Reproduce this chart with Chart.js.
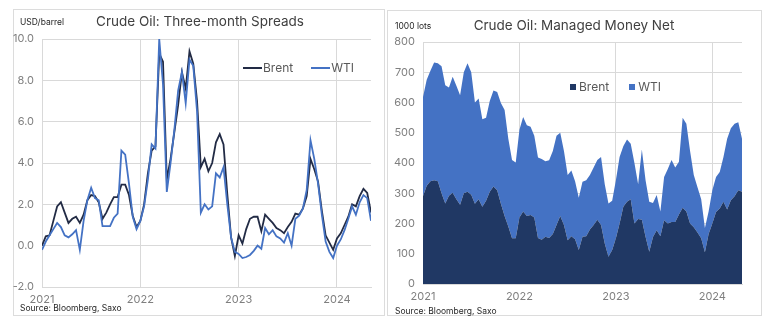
<!DOCTYPE html>
<html>
<head>
<meta charset="utf-8">
<script src="https://cdn.jsdelivr.net/npm/chart.js@4"></script>
<style>
  body { margin: 0; width: 770px; height: 330px; background: #fff; position: relative; overflow: hidden; font-family: Inter, "Noto Sans", sans-serif; }
  .panel { position: absolute; border: 1px solid #dcdcdc; box-sizing: border-box; }
  canvas { position: absolute; top: 0; }
  .txt { position: absolute; white-space: nowrap; line-height: 1; }
  .title { font-size: 13.5px; color: #404040; transform: translateX(-50%); }
  .unit, .src { font-size: 8.5px; color: #262626; }
  .leg { position: absolute; font-size: 12px; color: #595959; display: flex; align-items: center; line-height: 1; }
  .line { display: inline-block; width: 19px; height: 2px; margin-right: 1px; }
  .sq { display: inline-block; width: 6px; height: 6px; margin-right: 3px; }
</style>
</head>
<body>
<div class="panel" style="left:13px;top:9px;width:372px;height:307px"></div>
<div class="panel" style="left:387px;top:10px;width:375px;height:306px"></div>

<canvas id="spreads" width="386" height="330" style="left:0;width:386px;height:330px"></canvas>
<canvas id="money" width="384" height="330" style="left:386px;width:384px;height:330px"></canvas>

<div class="txt title" style="left:200px;top:15px">Crude Oil: Three-month Spreads</div>
<div class="txt unit" style="left:20px;top:18px">USD/barrel</div>
<div class="txt src" style="left:20px;top:304px">Source: Bloomberg, Saxo</div>
<div class="leg" style="left:243px;top:62px">
  <span class="line" style="background:#222b45"></span>Brent
  <span class="line" style="background:#4472c4;margin-left:18px"></span>WTI
</div>

<div class="txt title" style="left:574px;top:19px">Crude Oil: Managed Money Net</div>
<div class="txt unit" style="left:395px;top:22px">1000 lots</div>
<div class="txt src" style="left:395px;top:307px">Source: Bloomberg, Saxo</div>
<div class="leg" style="left:570px;top:81px">
  <span class="sq" style="background:#203864"></span>Brent
  <span class="sq" style="background:#4472c4;margin-left:20px"></span>WTI
</div>

<script>
// DATA - fortnightly readings starting Jan 2021
const yearTicks = [2021, 2022, 2023, 2024];
const spreadTicks = [-2, 0, 2, 4, 6, 8, 10];
const moneyTicks = [0, 100, 200, 300, 400, 500, 600, 700, 800];

// three-month spreads, USD/barrel
const brentSpread = [
  0.0, 0.45, 0.5, 1.2, 1.9, 2.1, 1.6, 1.1, 1.3, 1.4, 1.1, 1.5, 2.2, 2.45, 2.4, 2.1, 1.3, 1.6, 2.0, 2.35,
  2.35, 2.95, 2.95, 2.45, 1.45, 0.9, 1.2, 2.0, 3.5, 4.6, 4.8, 9.3, 8.9, 3.2, 4.2, 5.5, 6.8, 8.4, 7.6, 9.4,
  8.8, 7.0, 3.8, 4.2, 3.6, 4.0, 5.0, 5.4, 4.9, 2.5, 0.4, -0.5, 0.5, 0.1, 0.8, 1.3, 1.4, 1.4, 0.7, 1.5,
  1.3, 1.1, 0.85, 0.75, 0.6, 0.9, 1.15, 1.55, 1.5, 1.8, 2.4, 4.2, 3.7, 3.1, 1.7, 0.5, 0.15, -0.2, 0.35, 0.6,
  1.0, 1.4, 2.0, 1.9, 2.4, 2.75, 2.55, 1.6
];
const wtiSpread = [
  -0.2, 0.2, 0.5, 0.8, 1.1, 0.9, 0.5, 0.4, 0.55, 0.75, -0.2, 1.2, 2.2, 2.8, 2.3, 2.2, 0.95, 0.95, 0.95, 1.35,
  1.55, 4.6, 4.4, 3.0, 1.4, 0.8, 1.2, 1.9, 3.2, 4.9, 4.7, 10.0, 7.8, 2.6, 4.0, 5.6, 7.5, 8.4, 6.9, 9.0,
  8.7, 6.5, 1.6, 2.0, 1.75, 1.9, 3.5, 3.3, 3.8, 2.0, 0.4, -0.3, -0.4, -0.6, -0.55, -0.45, -0.25, 0.0, -0.15, 0.85,
  0.55, 0.75, 0.45, 0.35, 0.15, 0.6, 0.0, 1.3, 1.45, 1.8, 2.7, 5.1, 4.2, 3.0, 1.5, 0.2, -0.3, -0.6, 0.0, 0.3,
  0.75, 1.3, 1.9, 1.5, 2.1, 2.45, 2.3, 1.2
];

// managed money net, 1000 lots (stacked)
const brentNet = [
  290, 325, 340, 343, 340, 300, 266, 292, 302, 280, 262, 300, 305, 295, 265, 280, 255, 275, 305, 322,
  310, 265, 225, 190, 151, 151, 220, 240, 225, 228, 220, 152, 146, 156, 152, 165, 195, 225, 195, 145,
  158, 148, 112, 156, 158, 180, 195, 212, 195, 134, 90, 112, 151, 200, 255, 272, 280, 200, 215, 212,
  156, 107, 155, 178, 158, 211, 200, 205, 205, 230, 252, 240, 200, 188, 170, 151, 105, 165, 200, 238,
  250, 272, 246, 277, 290, 310, 305
];
const wtiNet = [
  328, 350, 365, 389, 390, 420, 391, 358, 383, 375, 362, 400, 425, 405, 335, 333, 290, 275, 300, 318,
  325, 333, 350, 290, 259, 251, 290, 312, 300, 292, 270, 266, 267, 250, 257, 275, 295, 275, 245, 215,
  217, 192, 173, 182, 185, 180, 190, 198, 225, 196, 176, 163, 192, 220, 200, 206, 184, 200, 115, 233,
  187, 165, 113, 116, 82, 143, 180, 205, 180, 174, 298, 290, 240, 172, 150, 129, 80, 75, 110, 116,
  120, 148, 234, 238, 240, 225, 175
];

const STEPS_PER_YEAR = 26;
const toPoints = arr => arr.map((v, i) => ({ x: 2021 + i / STEPS_PER_YEAR, y: v }));

Chart.defaults.font.family = 'Inter, "Noto Sans", sans-serif';
Chart.defaults.animation = false;

const gridColor = "#d9d9d9";
const tickColor = "#7f7f7f";

function xAxis(maxX) {
  return {
    type: "linear",
    min: 2021,
    max: maxX,
    afterBuildTicks: s => { s.ticks = yearTicks.map(v => ({ value: v })); },
    afterFit: s => { s.height = 20; },
    ticks: { color: tickColor, font: { size: 11 }, padding: 6, maxRotation: 0, callback: v => String(v) },
    grid: { color: gridColor, drawTicks: false },
    border: { display: true, color: gridColor }
  };
}

function yAxis(ticks, fmt) {
  return {
    min: ticks[0],
    max: ticks[ticks.length - 1],
    afterBuildTicks: s => { s.ticks = ticks.map(v => ({ value: v })); },
    afterFit: s => { s.width = 30; },
    ticks: { color: tickColor, font: { size: 11 }, padding: 8, callback: fmt },
    grid: { color: gridColor, drawTicks: false },
    border: { display: false }
  };
}

// LEFT: spreads
new Chart(document.getElementById("spreads"), {
  type: "line",
  data: {
    datasets: [
      { label: "WTI", data: toPoints(wtiSpread), borderColor: "#4472c4", borderWidth: 1.8, pointRadius: 0, tension: 0 },
      { label: "Brent", data: toPoints(brentSpread), borderColor: "#222b45", borderWidth: 1.8, pointRadius: 0, tension: 0 }
    ]
  },
  options: {
    responsive: false,
    layout: { padding: { left: 12, top: 39, right: 15, bottom: 23 } },
    plugins: { legend: { display: false }, tooltip: { enabled: false } },
    scales: {
      x: xAxis(2021 + (brentSpread.length - 1) / STEPS_PER_YEAR),
      y: yAxis(spreadTicks, v => v.toFixed(1))
    }
  }
});

// RIGHT: managed money (stacked areas)
const moneyX = xAxis(2021 + (brentNet.length - 1) / STEPS_PER_YEAR);
const moneyY = yAxis(moneyTicks, v => String(v));
moneyY.stacked = true;

new Chart(document.getElementById("money"), {
  type: "line",
  data: {
    datasets: [
      { label: "Brent", data: toPoints(brentNet), backgroundColor: "#203864", borderWidth: 0, fill: "origin", pointRadius: 0, tension: 0 },
      { label: "WTI", data: toPoints(wtiNet), backgroundColor: "#4472c4", borderWidth: 0, fill: "-1", pointRadius: 0, tension: 0 }
    ]
  },
  options: {
    responsive: false,
    layout: { padding: { left: 7, top: 42, right: 28, bottom: 26 } },
    plugins: { legend: { display: false }, tooltip: { enabled: false } },
    scales: { x: moneyX, y: moneyY }
  }
});
</script>
</body>
</html>
